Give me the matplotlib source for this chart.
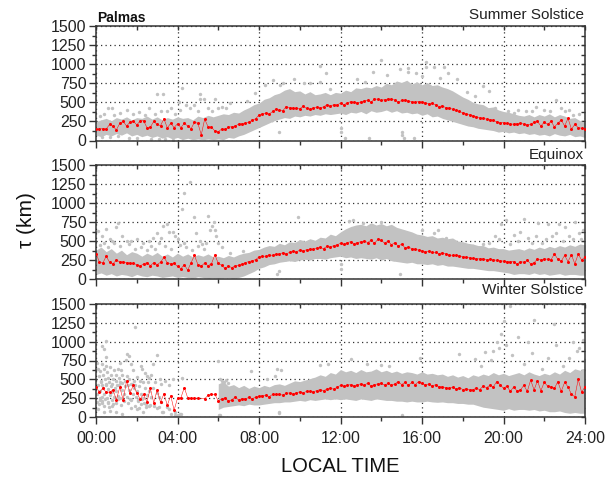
"""Palmas scale height per local time, three seasons, stacked panels."""
import matplotlib

matplotlib.use("Agg")
import matplotlib.pyplot as plt
import numpy as np
from matplotlib.ticker import FuncFormatter, MultipleLocator

plt.rcParams["font.family"] = ["Liberation Sans", "DejaVu Sans"]

W, H = 614, 479
GRAY = "#c2c2c2"
RED = "#ff0000"
INK = "#222222"

# red medians, one value per 10 minutes, 00:00 to 24:00
summer_red = [150, 150, 155, 150, 210, 185, 140, 225, 250, 190, 240, 255,
              205, 255, 260, 170, 175, 250, 210, 195, 285, 165, 225, 170,
              220, 170, 225, 190, 155, 240, 225, 75, 280, 180, 175, 125,
              115, 150, 145, 175, 180, 190, 215, 220, 225, 240, 265, 285,
              335, 350, 360, 345, 380, 410, 395, 390, 445, 430, 425, 420,
              415, 450, 420, 410, 425, 435, 430, 440, 470, 450, 470, 465,
              490, 470, 490, 510, 500, 495, 505, 520, 525, 500, 545, 540,
              525, 535, 545, 540, 530, 500, 525, 530, 515, 510, 500, 510,
              505, 495, 480, 485, 470, 445, 455, 430, 425, 410, 395, 380,
              365, 350, 340, 325, 310, 300, 290, 280, 275, 265, 245, 235,
              235, 225, 215, 215, 220, 225, 215, 205, 210, 240, 250, 190,
              240, 210, 250, 180, 225, 270, 190, 290, 150, 210, 170, 160, 150]
equinox_red = [335, 225, 210, 300, 220, 200, 250, 225, 225, 215, 210, 205,
               190, 170, 200, 215, 175, 215, 190, 220, 285, 215, 200, 205,
               165, 135, 190, 115, 215, 310, 190, 170, 210, 175, 200, 320,
               205, 180, 140, 170, 150, 175, 180, 195, 215, 230, 240, 255,
               290, 300, 300, 320, 310, 325, 330, 345, 330, 350, 365, 355,
               380, 370, 385, 395, 390, 405, 415, 400, 430, 420, 440, 450,
               470, 455, 480, 490, 465, 480, 490, 500, 480, 510, 470, 520,
               510, 470, 500, 450, 480, 430, 460, 410, 420, 400, 390, 380,
               370, 360, 365, 350, 350, 335, 345, 330, 320, 310, 310, 305,
               295, 285, 280, 270, 265, 265, 265, 255, 260, 255, 245, 240,
               235, 230, 225, 230, 195, 230, 220, 245, 200, 215, 260, 250,
               265, 260, 255, 330, 260, 235, 310, 230, 320, 200, 325, 250, 290]
nan = float("nan")
winter_red = [400, 330, 380, 330, 330, 360, 230, 395, 225, 480, 320, 420,
              320, 240, 300, 200, 380, 190, 360, 195, 310, 155, 285, 90,
              250, 255, 390, 255, 250, 250, 250, nan, 240, 290, 300, 300,
              215, 240, 255, 210, 230, 265, 225, 245, 240, 260, 245, 260,
              275, 285, 290, 270, 300, 300, 300, 290, 315, 320, 305, 320,
              335, 320, 340, 340, 335, 350, 365, 350, 370, 380, 370, 395,
              420, 410, 420, 430, 415, 430, 440, 420, 450, 410, 430, 440,
              445, 425, 445, 420, 440, 470, 430, 460, 420, 460, 430, 470,
              445, 425, 440, 410, 430, 400, 400, 390, 380, 395, 370, 390,
              365, 375, 360, 365, 380, 365, 410, 390, 420, 400, 470, 430,
              380, 410, 340, 400, 345, 360, 420, 340, 490, 360, 480, 350,
              460, 410, 400, 380, 470, 340, 460, 400, 300, 270, 500, 330, 400]
red_hours = [i / 6 for i in range(145)]

# dense part of the grey cloud, rough edges per quarter hour
band_hours = [i / 4 for i in range(97)]
summer_high = [250, 270, 290, 260, 300, 280, 310, 270, 300, 290, 320, 280,
               310, 270, 300, 280, 310, 290, 300, 270, 320, 300, 330, 310,
               330, 350, 340, 370, 360, 400, 430, 470, 490, 540, 560, 600,
               620, 660, 680, 640, 650, 610, 640, 600, 610, 630, 600, 630,
               620, 660, 640, 690, 680, 700, 690, 720, 700, 750, 730, 780,
               760, 790, 740, 770, 730, 760, 720, 730, 700, 680, 650, 610,
               570, 540, 500, 480, 470, 430, 440, 400, 380, 370, 350, 330,
               320, 340, 310, 340, 320, 350, 310, 340, 320, 290, 300, 260, 240]
summer_low = [70, 50, 80, 60, 90, 70, 100, 60, 80, 50, 70, 40,
              60, 30, 50, 20, 40, 10, 30, 10, 20, 10, 20, 10,
              20, 10, 40, 30, 60, 80, 110, 140, 170, 200, 230, 260,
              280, 300, 290, 320, 310, 330, 320, 340, 330, 350, 340, 350,
              360, 340, 370, 360, 380, 350, 390, 370, 380, 400, 370, 390,
              360, 370, 350, 360, 330, 350, 310, 320, 290, 270, 250, 230,
              210, 190, 180, 160, 150, 140, 130, 110, 120, 100, 110, 90,
              100, 80, 90, 70, 80, 60, 90, 70, 60, 80, 50, 60, 40]
equinox_high = [380, 420, 360, 400, 340, 380, 320, 360, 340, 300, 340, 310,
                350, 300, 330, 290, 340, 300, 330, 290, 320, 300, 330, 290,
                300, 280, 310, 290, 320, 340, 350, 380, 390, 420, 440, 430,
                470, 450, 490, 480, 520, 500, 530, 510, 550, 540, 590, 570,
                620, 660, 690, 710, 720, 700, 740, 710, 730, 700, 720, 680,
                660, 640, 620, 590, 580, 560, 570, 540, 550, 530, 540, 500,
                490, 470, 460, 440, 440, 410, 420, 400, 400, 380, 390, 400,
                380, 410, 390, 420, 400, 430, 410, 440, 420, 450, 430, 460, 450]
equinox_low = [60, 80, 50, 70, 40, 60, 50, 30, 60, 40, 30, 50,
               40, 20, 30, 40, 20, 30, 20, 10, 30, 20, 10, 20,
               10, 20, 20, 10, 20, 40, 70, 100, 140, 160, 190, 200,
               220, 230, 240, 230, 250, 260, 250, 270, 270, 260, 280, 290,
               300, 280, 290, 270, 280, 270, 260, 280, 250, 270, 240, 230,
               220, 210, 220, 200, 200, 190, 200, 180, 190, 170, 170, 160,
               150, 140, 140, 130, 120, 110, 110, 100, 90, 80, 60, 70,
               70, 60, 80, 60, 70, 50, 60, 70, 50, 60, 60, 50, 50]
winter_high = [nan] * 24 + [
    440, 470, 410, 430, 390, 420, 380, 410, 390, 420, 400, 430,
    440, 420, 450, 480, 470, 490, 510, 530, 560, 540, 590, 570,
    630, 600, 620, 590, 630, 600, 610, 640, 600, 620, 590, 610,
    580, 600, 590, 570, 600, 570, 580, 560, 570, 540, 560, 530,
    550, 520, 560, 540, 570, 550, 590, 560, 580, 550, 570, 590,
    560, 600, 570, 550, 580, 560, 600, 570, 620, 590, 640, 620, 650]
winter_low = [nan] * 24 + [
    100, 130, 140, 150, 160, 150, 170, 160, 160, 170, 180, 190,
    190, 200, 200, 210, 220, 210, 230, 220, 230, 240, 230, 240,
    230, 240, 230, 220, 240, 230, 220, 240, 230, 220, 220, 210,
    210, 200, 210, 200, 200, 210, 200, 195, 200, 190, 190, 180,
    180, 170, 170, 150, 130, 120, 110, 100, 90, 110, 90, 100,
    100, 90, 100, 80, 90, 70, 70, 80, 60, 50, 60, 50, 50]

# single grey dots
summer_dots_h = [3.0, 3.3, 4.2, 4.05, 5.1, 5.1, 5.3, 5.85, 6.6, 9.7, 11.0, 11.3, 11.0,
                 11.5, 10.2, 10.5, 9.05, 9.2, 9.0, 14.0, 16.2, 16.2, 13.6, 14.9,
                 15.3, 15.3, 16.6, 17.1, 17.3, 17.7, 19.0, 19.3, 22.6, 21.6, 20.7,
                 15.0, 15.0, 12.0, 12.0, 12.2, 13.4, 15.1, 15.6, 0.6, 0.8, 1.5,
                 2.6, 3.7, 4.4, 6.2, 7.4, 7.8, 8.3, 8.7, 12.8, 13.2, 14.3, 15.7,
                 16.0, 16.9, 18.2, 18.6, 20.2, 21.1, 22.0, 23.0, 23.4,
                 0.2, 0.4, 0.9, 1.2, 1.8, 2.1, 2.4, 2.9, 3.2, 3.5, 3.9, 4.1, 4.6, 4.8, 5.0, 5.5, 5.7, 6.0, 6.4,
                 0.3, 0.7, 1.1, 1.6, 2.0, 2.7, 3.1, 3.4, 3.8, 22.3, 22.8, 23.2, 23.7, 21.4, 20.5, 19.6]
summer_dots_v = [604, 604, 683, 510, 610, 540, 550, 540, 487, 800, 975, 880, 770,
                 670, 750, 750, 725, 750, 105, 1060, 1030, 965, 900, 935,
                 945, 900, 965, 965, 880, 810, 713, 650, 530, 435, 400,
                 117, 75, 160, 117, 30, 30, 30, 30, 420, 420, 400,
                 420, 430, 470, 440, 520, 620, 730, 790, 800, 770, 860, 880,
                 850, 820, 640, 580, 390, 380, 400, 390, 340,
                 320, 350, 340, 360, 350, 370, 340, 350, 380, 390, 350, 400, 420, 460, 390, 430, 380, 420, 430,
                 40, 50, 60, 30, 35, 25, 20, 15, 10, 380, 430, 400, 350, 390, 360, 420]
equinox_dots_h = [0.1, 0.3, 0.5, 0.7, 1.0, 1.1, 1.3, 1.5, 2.0, 2.3, 2.6, 3.0, 3.2,
                  3.3, 3.5, 3.8, 3.9, 4.0, 4.2, 4.3, 4.3, 4.6, 4.8, 4.9, 5.1, 5.5,
                  5.7, 5.8, 5.85, 5.9, 6.0, 6.2, 0.4, 0.8, 1.7, 2.8, 3.6, 5.2, 5.6,
                  9.9, 8.9, 9.0, 12.0, 12.0, 12.6, 13.1, 14.0, 15.1, 16.0, 16.6,
                  16.8, 17.2, 19.6, 19.9, 20.1, 20.5, 21.0, 21.6, 21.7, 22.2, 22.4,
                  22.7, 23.0, 23.5, 23.9, 19.0, 18.5, 20.8, 14.9, 12.4,
                  0.2, 0.6, 0.9, 1.2, 1.6, 1.9, 2.2, 2.5, 2.7, 2.9, 3.1, 3.4, 3.7, 4.1, 4.4, 4.7, 5.0, 5.3, 5.4,
                  19.3, 19.8, 20.3, 20.7, 21.2, 21.4, 21.9, 22.1, 22.6, 22.9, 23.2, 23.4, 23.7, 23.8, 6.6, 7.2]
equinox_dots_v = [630, 560, 660, 520, 680, 740, 560, 500, 520, 480, 500, 600, 540,
                  700, 720, 620, 560, 520, 920, 1130, 470, 1270, 810, 600, 500, 830,
                  700, 750, 640, 560, 480, 420, 480, 500, 500, 540, 620, 460, 640,
                  820, 60, 100, 200, 130, 780, 740, 750, 620, 650, 610,
                  640, 540, 570, 720, 770, 580, 790, 570, 740, 720, 560,
                  720, 680, 750, 640, 460, 440, 620, 70, 760,
                  450, 420, 470, 430, 460, 400, 420, 380, 440, 400, 470, 430, 400, 450, 420, 380, 440, 400, 470,
                  480, 520, 460, 500, 540, 480, 470, 530, 610, 500, 570, 520, 610, 520, 340, 370]
winter_dots_h = [0.05, 0.1, 0.15, 0.2, 0.25, 0.3, 0.3, 0.35, 0.4, 0.45, 0.5, 0.5, 0.55,
                 0.6, 0.65, 0.7, 0.75, 0.8, 0.85, 0.9, 1.0, 1.05, 1.1, 1.15, 1.2,
                 1.25, 1.3, 1.3, 1.4, 1.45, 1.5, 1.55, 1.6, 1.7, 1.75, 1.8, 1.85, 1.9,
                 2.0, 2.05, 2.1, 2.15, 2.2, 2.25, 2.3, 2.35, 2.4, 2.45, 2.5, 2.55,
                 2.6, 2.65, 2.7, 2.8, 2.85, 2.9, 3.0, 3.1, 3.15, 3.2, 3.3, 3.4, 3.5,
                 3.6, 3.7, 3.8, 3.9, 4.0, 4.1, 4.2, 0.3, 0.4, 0.5, 1.6, 1.9, 1.2, 1.0,
                 0.2, 0.3, 0.6, 0.8, 0.1, 0.4, 0.7, 1.0, 1.3, 1.7, 2.0, 2.3, 2.6, 3.2,
                 3.25, 3.0, 3.6, 3.9, 4.15, 6.0, 6.05, 6.1, 6.2, 6.1, 6.3, 6.4, 6.5,
                 9.1, 8.9, 8.8, 8.4, 7.6, 9.0, 11.0, 12.5, 13.3, 14.4, 15.0, 15.9,
                 17.8, 18.6, 18.9, 19.1, 19.4, 19.5, 19.7, 19.8, 19.9, 20.0, 20.1, 20.3,
                 20.4, 20.7, 21.0, 21.2, 21.4, 21.5, 21.9, 22.2, 22.5, 22.6, 22.9, 23.2,
                 23.4, 23.6, 23.7, 23.9, 24.0, 0.5, 1.5, 2.2, 14.0, 11.4, 9.0,
                 0.05, 0.1, 0.2, 0.25, 0.3, 0.35, 0.4, 0.5, 0.55, 0.6, 0.7, 0.75, 0.8, 0.9, 0.95, 1.0, 1.1, 1.15, 1.2, 1.3,
                 1.35, 1.4, 1.5, 1.6, 1.65, 1.7, 1.8, 1.85, 1.95, 2.0, 2.1, 2.2, 2.3, 2.4, 2.5, 2.6, 2.7, 2.8, 3.0, 3.1,
                 0.05, 0.15, 0.2, 0.3, 0.4, 0.45, 0.6, 0.65, 0.8, 0.85, 1.0, 1.1, 1.25, 1.35, 1.55, 1.7, 1.9, 2.05, 2.25, 2.45]
winter_dots_v = [720, 640, 540, 610, 480, 700, 420, 560, 640, 500, 680, 430, 600,
                 520, 470, 660, 560, 440, 500, 620, 480, 420, 640, 520, 460,
                 620, 450, 560, 480, 760, 540, 430, 500, 700, 440, 620, 480, 420,
                 530, 220, 120, 480, 170, 640, 460, 180, 580, 130, 550, 470,
                 520, 160, 560, 700, 140, 460, 820, 130, 500, 440, 60, 480, 130,
                 420, 40, 510, 30, 30, 40, 520, 940, 900, 1010, 810, 1190, 720, 560,
                 250, 180, 200, 150, 110, 60, 80, 70, 40, 120, 100, 70, 150, 200,
                 60, 120, 110, 60, 40, 740, 20, 510, 480, 30, 470, 490, 450,
                 620, 640, 540, 500, 610, 60, 690, 770, 710, 680, 30, 780,
                 840, 770, 680, 860, 760, 880, 1000, 920, 1100, 1280, 960, 1480,
                 820, 1060, 700, 1000, 850, 1290, 640, 780, 1240, 950, 680, 780,
                 1000, 880, 910, 1020, 760, 790, 830, 680, 690, 700, 50,
                 300, 420, 350, 460, 260, 390, 310, 440, 250, 370, 290, 410, 330, 270, 390, 340, 280, 430, 250, 360,
                 300, 410, 270, 360, 240, 440, 300, 380, 260, 340, 410, 300, 250, 380, 290, 340, 260, 380, 320, 260,
                 200, 170, 230, 210, 150, 240, 190, 130, 220, 170, 190, 240, 160, 210, 180, 230, 150, 210, 240, 170]

panels = [
    (26, 140.5, summer_red, summer_high, summer_low, summer_dots_h, summer_dots_v, "Summer Solstice", 15),
    (165, 279, equinox_red, equinox_high, equinox_low, equinox_dots_h, equinox_dots_v, "Equinox", 155),
    (304, 417, winter_red, winter_high, winter_low, winter_dots_h, winter_dots_v, "Winter Solstice", 290),
]

fig = plt.figure(figsize=(W / 100, H / 100), dpi=100)
for i, (top, bottom, red, high, low, dots_h, dots_v, season, season_y) in enumerate(panels):
    ax = fig.add_axes([96 / W, 1 - bottom / H, 489 / W, (bottom - top) / H])
    ax.fill_between(band_hours, low, high, color=GRAY, linewidth=0, zorder=2)
    ax.scatter(dots_h, dots_v, s=6, color=GRAY, linewidth=0, zorder=2)
    vals = np.array(red)
    keep = ~np.isnan(vals)
    hrs = np.array(red_hours)[keep]
    ax.plot(hrs, vals[keep], color=RED, linewidth=0.35, marker="o", markersize=2.2,
            markeredgewidth=0, zorder=3)

    ax.set_xlim(0, 24)
    ax.set_ylim(0, 1500)
    ax.xaxis.set_major_locator(MultipleLocator(4))
    ax.xaxis.set_minor_locator(MultipleLocator(2))
    ax.yaxis.set_major_locator(MultipleLocator(250))
    ax.yaxis.set_minor_locator(MultipleLocator(125))
    ax.xaxis.set_major_formatter(FuncFormatter(lambda v, _: f"{int(v):02d}:00"))
    ax.grid(which="major", color="#333333", linestyle=(0, (1, 2.6)), linewidth=0.9, zorder=1)
    ax.set_axisbelow(True)
    ax.tick_params(axis="both", which="major", direction="out", length=5, width=1,
                   color="#333333", labelsize=11.5, labelcolor=INK, pad=2)
    ax.tick_params(axis="both", which="minor", direction="out", length=3, width=1, color="#333333")
    ax.tick_params(axis="x", labelbottom=(i == 2), pad=5)
    # short inward ticks along top and right
    top_ax = ax.secondary_xaxis("top")
    top_ax.xaxis.set_major_locator(MultipleLocator(2))
    top_ax.tick_params(direction="in", length=3, width=1, color="#333333", labeltop=False)
    top_ax.spines["top"].set_visible(False)
    right_ax = ax.secondary_yaxis("right")
    right_ax.yaxis.set_major_locator(MultipleLocator(125))
    right_ax.tick_params(direction="in", length=3, width=1, color="#333333", labelright=False)
    right_ax.spines["right"].set_visible(False)
    for s in ax.spines.values():
        s.set_color("#333333")
        s.set_linewidth(1.1)
    fig.text(584 / W, 1 - season_y / H, season, ha="right", va="center", fontsize=11, color=INK)

fig.text(97 / W, 1 - 17.5 / H, "Palmas", ha="left", va="center", fontsize=10, fontweight="bold", color="#111111")
fig.text(26 / W, 1 - 220 / H, "τ (km)", rotation=90, ha="center", va="center", fontsize=15, color="#111111")
fig.text(340 / W, 1 - 466 / H, "LOCAL TIME", ha="center", va="center", fontsize=14.5, color="#111111")
fig.savefig("out.png", dpi=100, facecolor="white")
